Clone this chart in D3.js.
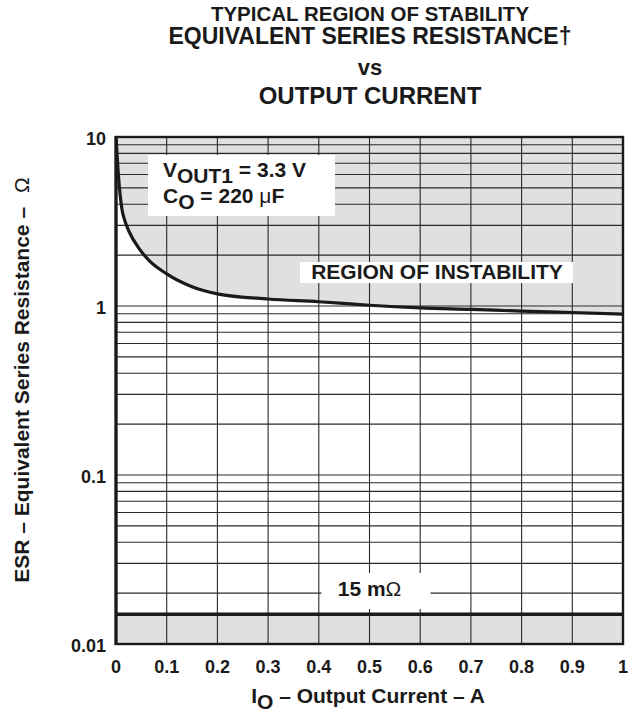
<!DOCTYPE html>
<html>
<head>
<meta charset="utf-8">
<script src="https://cdn.jsdelivr.net/npm/d3@7/dist/d3.min.js"></script>
<style>
  html, body { margin: 0; padding: 0; background: #fff; }
  svg { display: block; }
  text { font-family: "Liberation Sans", Arial, Helvetica, sans-serif; font-weight: bold; fill: #1a1a1a; }
</style>
</head>
<body>
<svg id="chart" width="634" height="713"></svg>
<script>
// Stability boundary: ESR (ohm) versus output current (A)
const currentA = [0, 0.004, 0.008, 0.012, 0.016, 0.026, 0.045, 0.066, 0.1, 0.15, 0.2, 0.3, 0.4, 0.5, 0.6, 0.7, 0.8, 0.9, 1.0];
const esrOhm   = [10, 6.4, 4.6, 3.7, 3.3, 2.75, 2.2, 1.85, 1.55, 1.3, 1.18, 1.1, 1.06, 1.01, 0.975, 0.955, 0.932, 0.915, 0.895];

// Minimum ESR line (ohm)
const esrMin = 0.015;

// Axis ticks
const xTicks = [0, 0.1, 0.2, 0.3, 0.4, 0.5, 0.6, 0.7, 0.8, 0.9, 1];
const xTickLabels = ["0", "0.1", "0.2", "0.3", "0.4", "0.5", "0.6", "0.7", "0.8", "0.9", "1"];
const yTicks = [0.01, 0.1, 1, 10];
const yTickLabels = ["0.01", "0.1", "1", "10"];

const titleLines = ["TYPICAL REGION OF STABILITY", "EQUIVALENT SERIES RESISTANCE\u2020", "vs", "OUTPUT CURRENT"];

const svg = d3.select("#chart");
const plot = { left: 116, right: 623, top: 137, bottom: 644 };

const x = d3.scaleLinear().domain([0, 1]).range([plot.left, plot.right]);
const y = d3.scaleLog().domain([0.01, 10]).range([plot.bottom, plot.top]);

const shade = "#dfe0e2";
const ink = "#1a1a1a";

svg.append("defs").append("clipPath").attr("id", "plotClip")
  .append("rect")
  .attr("x", plot.left).attr("y", plot.top)
  .attr("width", plot.right - plot.left).attr("height", plot.bottom - plot.top);

const pts = currentA.map((c, i) => [c, esrOhm[i]]);

// Shaded regions: above the boundary curve and below the minimum ESR
const g = svg.append("g").attr("clip-path", "url(#plotClip)");
g.append("path")
  .datum(pts)
  .attr("fill", shade)
  .attr("d", d3.area()
    .x(d => x(d[0]))
    .y0(y(10))
    .y1(d => y(d[1]))
    .curve(d3.curveMonotoneX));
g.append("rect")
  .attr("x", x(0)).attr("y", y(esrMin))
  .attr("width", x(1) - x(0)).attr("height", y(0.01) - y(esrMin))
  .attr("fill", shade);

// Grid: vertical lines every 0.1 A, horizontal lines on every log minor step
const yGrid = [];
for (let e = -2; e < 1; e++) {
  for (let k = 1; k <= 9; k++) yGrid.push(k * Math.pow(10, e));
}
yGrid.push(10);

const grid = svg.append("g").attr("stroke", "#2a2a2a").attr("stroke-width", 1.1);
grid.selectAll("line.v").data(xTicks).join("line")
  .attr("class", "v")
  .attr("x1", d => x(d)).attr("x2", d => x(d))
  .attr("y1", plot.top).attr("y2", plot.bottom);
grid.selectAll("line.h").data(yGrid).join("line")
  .attr("class", "h")
  .attr("x1", plot.left).attr("x2", plot.right)
  .attr("y1", d => y(d)).attr("y2", d => y(d));

// Boundary curve
svg.append("path")
  .datum(pts)
  .attr("fill", "none")
  .attr("stroke", ink)
  .attr("stroke-width", 3.2)
  .attr("clip-path", "url(#plotClip)")
  .attr("d", d3.line()
    .x(d => x(d[0]))
    .y(d => y(d[1]))
    .curve(d3.curveMonotoneX));

// Minimum ESR line
svg.append("line")
  .attr("x1", plot.left).attr("x2", plot.right)
  .attr("y1", y(esrMin)).attr("y2", y(esrMin))
  .attr("stroke", ink).attr("stroke-width", 3.4);

// Plot frame
svg.append("rect")
  .attr("x", plot.left).attr("y", plot.top)
  .attr("width", plot.right - plot.left).attr("height", plot.bottom - plot.top)
  .attr("fill", "none").attr("stroke", ink).attr("stroke-width", 2.4);
svg.append("line")
  .attr("x1", plot.left).attr("x2", plot.left)
  .attr("y1", plot.top - 1).attr("y2", plot.bottom + 1)
  .attr("stroke", ink).attr("stroke-width", 3.2);

// Labelled boxes inside the plot
function box(x0, y0, w, h) {
  svg.append("rect").attr("x", x0).attr("y", y0).attr("width", w).attr("height", h).attr("fill", "#fff");
}

box(148, 155, 187, 61);
const t1 = svg.append("text").attr("x", 163).attr("y", 177).style("font-size", "21px");
t1.append("tspan").text("V");
t1.append("tspan").attr("dy", 6).text("OUT1");
t1.append("tspan").attr("dy", -6).text(" = 3.3 V");
const t2 = svg.append("text").attr("x", 163).attr("y", 203).style("font-size", "21px");
t2.append("tspan").text("C");
t2.append("tspan").attr("dy", 6).text("O");
t2.append("tspan").attr("dy", -6).text(" = 220 ");
t2.append("tspan").style("font-weight", "normal").text("\u03bc");
t2.append("tspan").text("F");

box(300, 262, 273, 21);
svg.append("text").attr("x", 437).attr("y", 279)
  .attr("text-anchor", "middle").style("font-size", "21px")
  .text("REGION OF INSTABILITY");

box(x(0.5) - 48, 573, 109, 36);
const t3 = svg.append("text").attr("x", x(0.5)).attr("y", 596)
  .attr("text-anchor", "middle").style("font-size", "21px");
t3.append("tspan").text("15 m");
t3.append("tspan").style("font-weight", "normal").text("\u03a9");

// Tick labels
svg.append("g").selectAll("text").data(xTicks).join("text")
  .attr("x", d => x(d)).attr("y", 673)
  .attr("text-anchor", "middle").style("font-size", "18px")
  .text((d, i) => xTickLabels[i]);
svg.append("g").selectAll("text").data(yTicks).join("text")
  .attr("x", 106).attr("y", d => y(d) + 8)
  .attr("text-anchor", "end").style("font-size", "18px")
  .text((d, i) => yTickLabels[i]);

// Axis titles
const xt = svg.append("text").attr("x", 368).attr("y", 703)
  .attr("text-anchor", "middle").style("font-size", "21px");
xt.append("tspan").text("I");
xt.append("tspan").attr("dy", 6).text("O");
xt.append("tspan").attr("dy", -6).text(" \u2013 Output Current \u2013 A");

const yt = svg.append("text")
  .attr("transform", "translate(29,380) rotate(-90)")
  .attr("text-anchor", "middle").style("font-size", "21px");
yt.append("tspan").text("ESR \u2013 Equivalent Series Resistance \u2013");
yt.append("tspan").attr("dx", 14).style("font-weight", "normal").text("\u03a9");

// Title
const titleY = [21, 44, 75, 104];
const titleSize = ["20.5px", "23px", "22px", "24px"];
svg.append("g").selectAll("text").data(titleLines).join("text")
  .attr("x", 370).attr("y", (d, i) => titleY[i])
  .attr("text-anchor", "middle")
  .style("font-size", (d, i) => titleSize[i])
  .text(d => d);
</script>
</body>
</html>
